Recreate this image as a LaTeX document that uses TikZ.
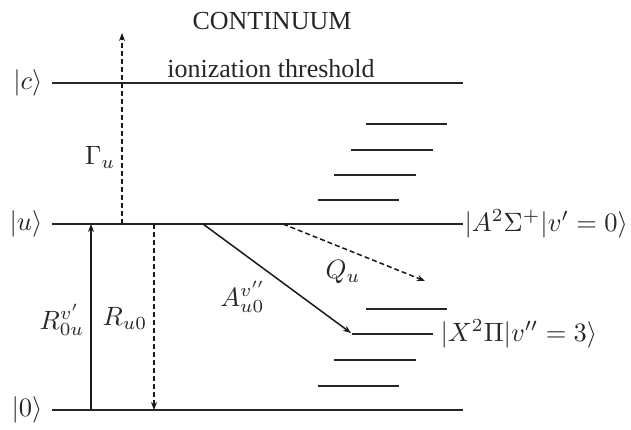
\documentclass[tikz,border=0pt]{standalone}
\usepackage{fontspec}
\setmainfont{Liberation Serif}
\usetikzlibrary{arrows.meta}
\begin{document}
\begin{tikzpicture}[x=1pt,y=-1pt,
  level/.style={line width=1.8pt, draw=black!85},
  arr/.style={line width=1.5pt, draw=black!90, -{Stealth[length=8pt,width=6pt]}},
  dsh/.style={dash pattern=on 5pt off 3pt},
  lab/.style={font=\normalsize, scale=2.65, inner sep=0pt, text=black!85},
  ttl/.style={font=\fontsize{26}{28}\selectfont, inner sep=0pt, text=black!85},
]
\useasboundingbox (0,0) rectangle (631,430);
% main levels
\coordinate (cL) at (52,83);  \coordinate (cR) at (463,83);
\coordinate (uL) at (52,224); \coordinate (uR) at (463,224);
\coordinate (zL) at (52,410); \coordinate (zR) at (463,410);
\draw[level] (cL) -- (cR);
\draw[level] (uL) -- (uR);
\draw[level] (zL) -- (zR);
% level labels
\node[lab, anchor=east] (kc) at (43,83)  {$|c\rangle$};
\node[lab, anchor=east] (ku) at (43,224) {$|u\rangle$};
\node[lab, anchor=east] (kz) at (43,410) {$|0\rangle$};
\node[lab, anchor=west] (kA) at (464,224) {$|A^2\Sigma^+|v'=0\rangle$};
\node[lab, anchor=west] (kX) at (440,334) {$|X^2\Pi|v''=3\rangle$};
\node[ttl] (cont) at (272,21) {CONTINUUM};
\node[ttl] (ion) at (271,69) {ionization threshold};
% vibrational ladders
\coordinate (a1L) at (366,124); \coordinate (a1R) at (447,124);
\coordinate (a2L) at (351,150); \coordinate (a2R) at (433,150);
\coordinate (a3L) at (334,175); \coordinate (a3R) at (416,175);
\coordinate (a4L) at (318,200); \coordinate (a4R) at (399,200);
\coordinate (x1L) at (366,309); \coordinate (x1R) at (447,309);
\coordinate (x2L) at (352,334); \coordinate (x2R) at (433,334);
\coordinate (x3L) at (334,360); \coordinate (x3R) at (416,360);
\coordinate (x4L) at (318,386); \coordinate (x4R) at (399,386);
\foreach \n in {a1,a2,a3,a4,x1,x2,x3,x4}
  \draw[level] (\n L) -- (\n R);
% transition endpoints
\coordinate (gS) at (122,224); \coordinate (gE) at (122,33);
\coordinate (rS) at (91,410);  \coordinate (rE) at (91,224);
\coordinate (dS) at (154,224); \coordinate (dE) at (154,410);
\coordinate (aS) at (203,224); \coordinate (aE) at (351,333);
\coordinate (qS) at (283,224); \coordinate (qE) at (425,281);
\draw[arr, dsh] (gS) -- (gE);
\draw[arr] (rS) -- (rE);
\draw[arr, dsh] (dS) -- (dE);
\draw[arr] (aS) -- (aE);
\draw[arr, dsh] (qS) -- (qE);
% transition labels
\node[lab] (lg) at (100,157) {$\Gamma_u$};
\node[lab] (lr) at (62,320) {$R^{v'}_{0u}$};
\node[lab] (ld) at (125,318) {$R_{u0}$};
\node[lab] (la) at (243,297) {$A^{v''}_{u0}$};
\node[lab] (lq) at (343,272) {$Q_u$};
\end{tikzpicture}
\end{document}
